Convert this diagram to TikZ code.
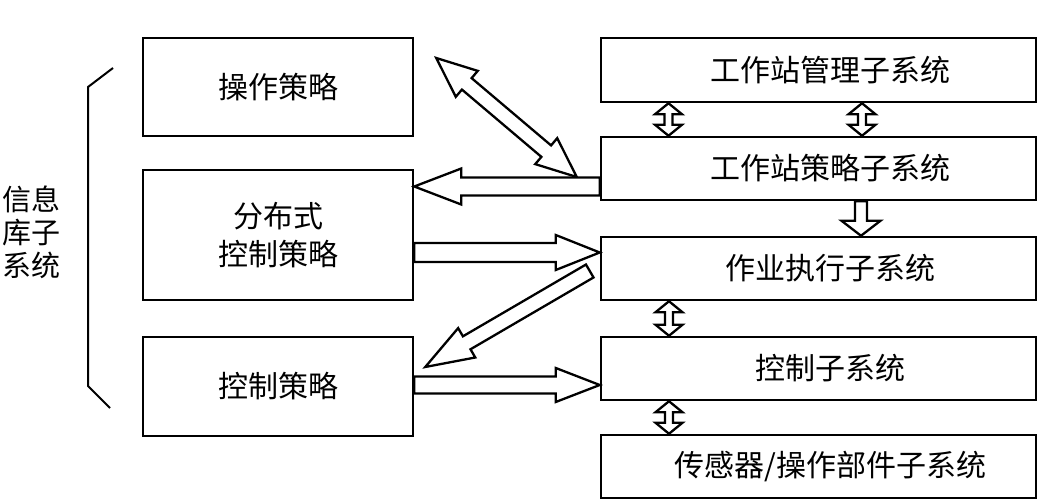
\documentclass[tikz,border=0pt]{standalone}
\usepackage{fontspec}
\setmainfont{Noto Sans CJK SC}
\usetikzlibrary{calc}

\newcommand{\fatarrow}[5]{%
  \coordinate (fa-h) at ($(#5)!#3!(#4)$);
  \draw[hollow] ($(#4)!#1!90:(#5)$) -- ($(fa-h)!#1!-90:(#4)$) -- ($(fa-h)!#2!-90:(#4)$) -- (#5)
    -- ($(fa-h)!#2!90:(#4)$) -- ($(fa-h)!#1!90:(#4)$) -- ($(#4)!#1!-90:(#5)$) -- cycle;}
\newcommand{\fatdouble}[5]{%
  \coordinate (fa-h) at ($(#5)!#3!(#4)$);
  \coordinate (fa-t) at ($(#4)!#3!(#5)$);
  \draw[hollow] (#4) -- ($(fa-t)!#2!90:(#5)$) -- ($(fa-t)!#1!90:(#5)$) -- ($(fa-h)!#1!-90:(#4)$)
    -- ($(fa-h)!#2!-90:(#4)$) -- (#5) -- ($(fa-h)!#2!90:(#4)$) -- ($(fa-h)!#1!90:(#4)$)
    -- ($(fa-t)!#1!-90:(#5)$) -- ($(fa-t)!#2!-90:(#5)$) -- cycle;}

\begin{document}
\begin{tikzpicture}[x=1pt,y=-1pt]
  \tikzstyle{box}=[draw, line width=2.5pt, inner sep=0pt, align=center,
    font=\fontsize{30}{38}\selectfont]
  \tikzstyle{leftbox}=[box, minimum width=270pt]
  \tikzstyle{rightbox}=[box, minimum width=435pt, minimum height=63pt,
    execute at begin node=\hspace*{24pt}]
  \tikzstyle{hollow}=[draw, fill=white, line width=2.3pt, line join=miter]
  \useasboundingbox (0,0) rectangle (1050,500);

  \node[leftbox, minimum height=98pt] (op) at (278,87) {操作策略};
  \node[leftbox, minimum height=130pt] (dist) at (278,235) {分布式\\控制策略};
  \node[leftbox, minimum height=99pt] (ctl) at (278,386.5) {控制策略};

  \node[rightbox, minimum height=64pt] (wsmgr) at (818.5,70) {工作站管理子系统};
  \node[rightbox] (wsstrat) at (818.5,168.5) {工作站策略子系统};
  \node[rightbox] (exec) at (818.5,268.5) {作业执行子系统};
  \node[rightbox] (ctrlsys) at (818.5,368.5) {控制子系统};
  \node[rightbox] (sensor) at (818.5,466.5) {传感器/操作部件子系统};

  \node[align=center, inner sep=0pt, font=\fontsize{29}{33}\selectfont] (info) at (31,232) {信息\\库子\\系统};
  \draw[line width=2pt] (113,68) -- (88,87) -- (88,386) -- (110,408);

  \coordinate (opne) at ([xshift=22pt, yshift=29pt]op.east);
  \coordinate (wsw) at ([xshift=-23pt, yshift=-8.5pt]wsstrat.west);
  \coordinate (wsout) at ([yshift=-18pt]wsstrat.west);
  \coordinate (distin) at ([yshift=48.5pt]dist.east);
  \coordinate (distout) at ([yshift=-17.5pt]dist.east);
  \coordinate (execin) at ([yshift=16pt]exec.west);
  \coordinate (execout) at ([xshift=-10pt, yshift=-2.5pt]exec.west);
  \coordinate (ctlin) at ([xshift=11pt, yshift=19.5pt]ctl.east);
  \coordinate (ctlout) at ([yshift=1.5pt]ctl.east);
  \coordinate (ctrlin) at ([yshift=-16.5pt]ctrlsys.west);

  \fatdouble{7.5pt}{17pt}{40pt}{opne}{wsw}
  \fatarrow{9pt}{18pt}{47pt}{wsout}{distin}
  \fatarrow{9.5pt}{17.5pt}{44pt}{distout}{execin}
  \fatarrow{7.5pt}{17pt}{48pt}{execout}{ctlin}
  \fatarrow{8.5pt}{17pt}{44pt}{ctlout}{ctrlin}

  \fatdouble{4pt}{13.5pt}{11pt}{[xshift=-150pt]wsmgr.south}{[xshift=-150pt]wsstrat.north}
  \fatdouble{4pt}{13.5pt}{11pt}{[xshift=43.5pt]wsmgr.south}{[xshift=43.5pt]wsstrat.north}
  \fatarrow{6pt}{19.5pt}{15pt}{[xshift=42.5pt]wsstrat.south}{[xshift=42.5pt]exec.north}
  \fatdouble{4pt}{13.5pt}{11pt}{[xshift=-149.5pt]exec.south}{[xshift=-149.5pt]ctrlsys.north}
  \fatdouble{4pt}{13.5pt}{11pt}{[xshift=-149.5pt]ctrlsys.south}{[xshift=-149.5pt]sensor.north}
\end{tikzpicture}
\end{document}
